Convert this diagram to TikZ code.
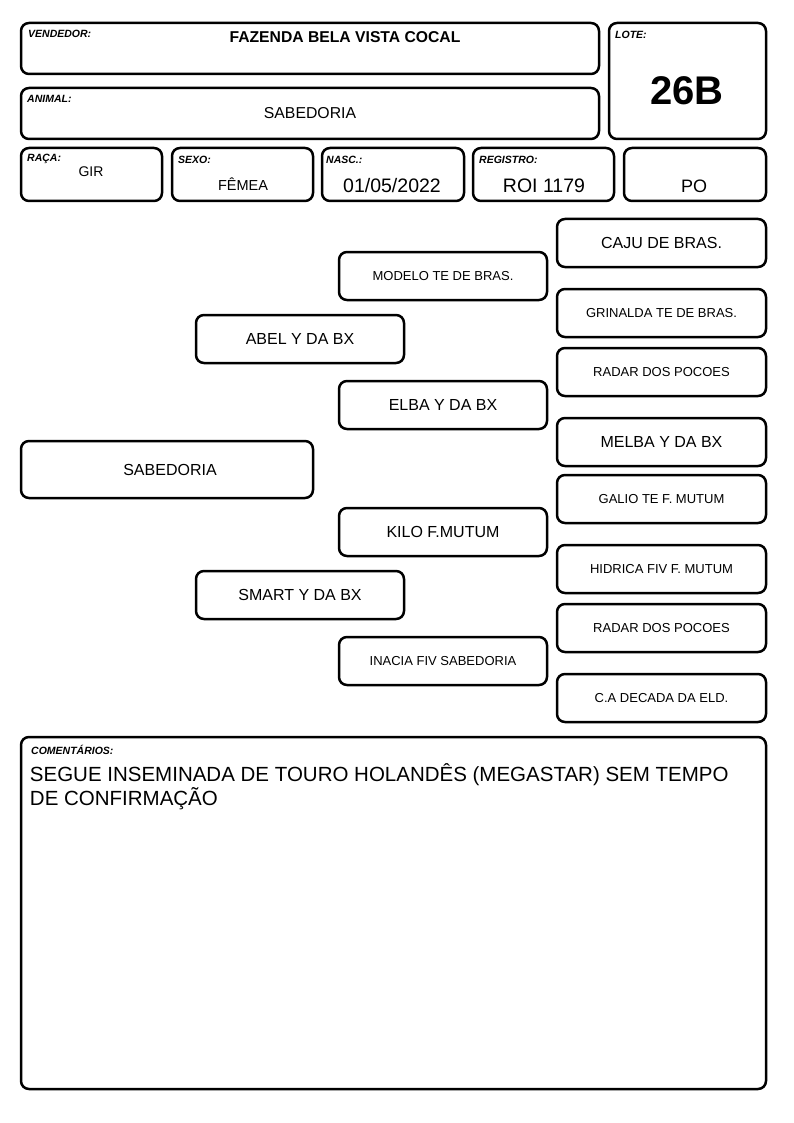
\documentclass[tikz,border=0pt]{standalone}
\usepackage{fontspec}
\setmainfont{Liberation Sans}
\newcommand{\fs}[1]{\fontsize{#1}{#1}\selectfont}
\tikzset{
  box/.style={draw=black, line width=2.5pt, rounded corners=8pt, inner sep=0pt, fill=white},
  lab/.style={anchor=base west, inner sep=0pt, font=\fs{10.5}\bfseries\itshape},
  val/.style={inner sep=0pt, font=\fs{15}},
  big/.style={font=\fs{16}},
  small/.style={font=\fs{13}},
}
\begin{document}
\begin{tikzpicture}[x=1pt,y=-1pt]
\useasboundingbox[fill=white] (0,0) rectangle (794,1123);
% header
\node[box, minimum width=578pt, minimum height=51pt] (vend) at (310,48.5) {};
\node[box, minimum width=578pt, minimum height=51pt] (anim) at (310,113.5) {};
\node[box, minimum width=157pt, minimum height=116pt] (lote) at (687.5,81) {};
\node[box, minimum width=141pt, minimum height=53pt] (raca) at (91.5,174.5) {};
\node[box, minimum width=141pt, minimum height=53pt] (sexo) at (242.5,174.5) {};
\node[box, minimum width=142pt, minimum height=53pt] (nasc) at (393,174.5) {};
\node[box, minimum width=141pt, minimum height=53pt] (reg) at (543.5,174.5) {};
\node[box, minimum width=142pt, minimum height=53pt] (po) at (695,174.5) {};

\node[lab] (lvend) at (28,38) {VENDEDOR:};
\node[lab] (lanim) at (27,103) {ANIMAL:};
\node[lab] (llote) at (615,39) {LOTE:};
\node[lab] (lraca) at (27,162) {RAÇA:};
\node[lab] (lsexo) at (178,164) {SEXO:};
\node[lab] (lnasc) at (326,164) {NASC.:};
\node[lab] (lreg) at (479,164) {REGISTRO:};

\node[val, font=\fs{15.7}\bfseries] (tvend) at (345,37) {FAZENDA BELA VISTA COCAL};
\node[val, font=\fs{15.8}] (tanim) at (310,113) {SABEDORIA};
\node[val, font=\fs{40}\bfseries] (tlote) at (687,91) {26B};
\node[val, font=\fs{14}] (traca) at (91,172) {GIR};
\node[val, font=\fs{14.5}] (tsexo) at (243,184) {FÊMEA};
\node[val, font=\fs{19.5}] (tnasc) at (392,186) {01/05/2022};
\node[val, font=\fs{19.5}] (treg) at (544,186) {ROI 1179};
\node[val, font=\fs{18}] (tpo) at (694,186) {PO};

% pedigree
\node[box, big, minimum width=292pt, minimum height=57pt] (sab) at (167,469.5) {\hspace*{6pt}SABEDORIA};
\node[box, big, minimum width=208pt, minimum height=48pt] (abel) at (300,339) {ABEL Y DA BX};
\node[box, big, minimum width=208pt, minimum height=48pt] (smart) at (300,595) {SMART Y DA BX};
\node[box, small, minimum width=208pt, minimum height=48pt] (modelo) at (443,276) {MODELO TE DE BRAS.};
\node[box, big, minimum width=208pt, minimum height=48pt] (elba) at (443,405) {ELBA Y DA BX};
\node[box, big, minimum width=208pt, minimum height=48pt] (kilo) at (443,532) {KILO F.MUTUM};
\node[box, small, minimum width=208pt, minimum height=48pt] (inacia) at (443,661) {INACIA FIV SABEDORIA};
\node[box, big, minimum width=209pt, minimum height=48pt] (caju) at (661.5,243) {CAJU DE BRAS.};
\node[box, small, minimum width=209pt, minimum height=48pt] (grin) at (661.5,313) {GRINALDA TE DE BRAS.};
\node[box, small, minimum width=209pt, minimum height=48pt] (radar) at (661.5,372) {RADAR DOS POCOES};
\node[box, big, minimum width=209pt, minimum height=48pt] (melba) at (661.5,442) {MELBA Y DA BX};
\node[box, small, minimum width=209pt, minimum height=48pt] (galio) at (661.5,499) {GALIO TE F. MUTUM};
\node[box, small, minimum width=209pt, minimum height=48pt] (hidrica) at (661.5,569) {HIDRICA FIV F. MUTUM};
\node[box, small, minimum width=209pt, minimum height=48pt] (radar2) at (661.5,628) {RADAR DOS POCOES};
\node[box, small, minimum width=209pt, minimum height=48pt] (ca) at (661.5,698) {C.A DECADA DA ELD.};

% comments
\node[box, minimum width=745pt, minimum height=352pt] (com) at (393.5,913) {};
\node[lab] (lcom) at (31,754) {COMENTÁRIOS:};
\node[anchor=north west, inner sep=0pt, align=left, font=\fontsize{20.5}{24}\selectfont] (tcom) at ([shift={(10pt,-28pt)}]com.north west) {SEGUE INSEMINADA DE TOURO HOLANDÊS (MEGASTAR) SEM TEMPO\\DE CONFIRMAÇÃO};
\end{tikzpicture}
\end{document}
